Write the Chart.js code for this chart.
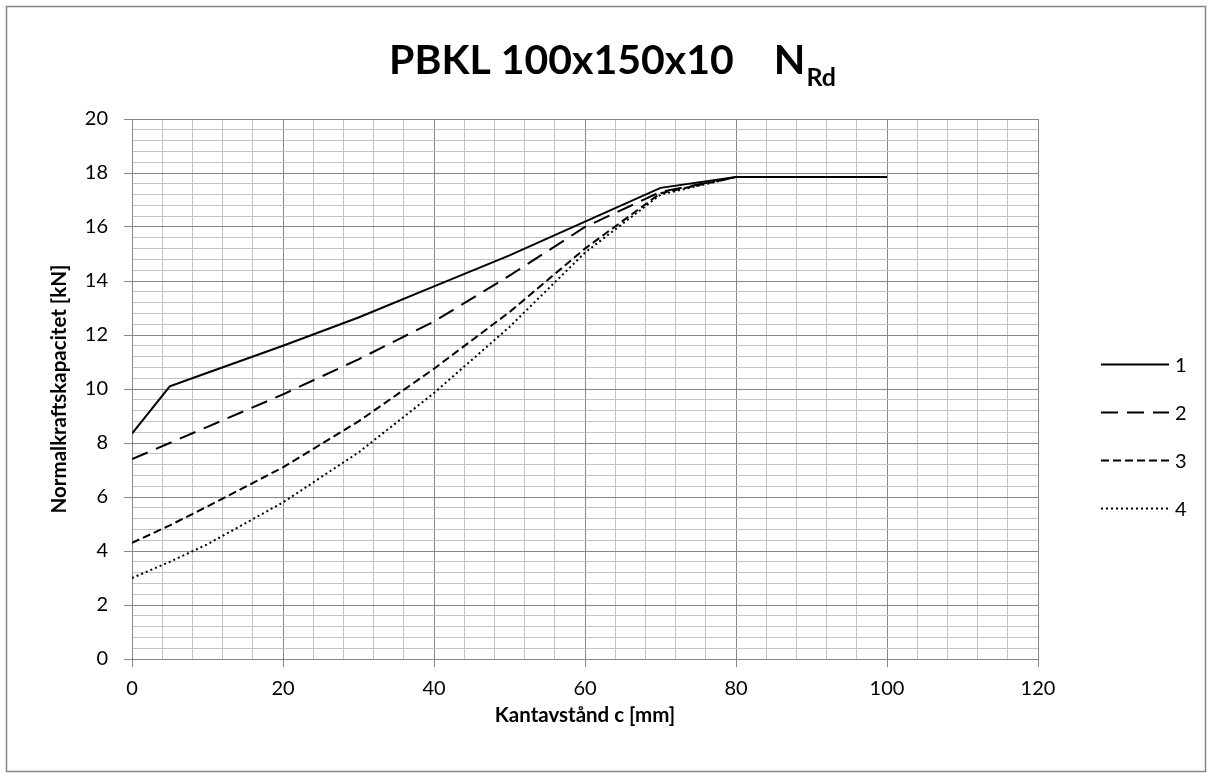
<!DOCTYPE html>
<html>
<head>
<meta charset="utf-8">
<script src="https://cdn.jsdelivr.net/npm/chart.js@4.4.1/dist/chart.umd.min.js"></script>
<style>
  body { margin: 0; background: #fff; }
  canvas { display: block; }
</style>
</head>
<body>
<canvas id="capacityChart" width="1212" height="778"></canvas>
<script>
// Kantavstånd c [mm]
const edgeDistances = [0, 5, 10, 20, 30, 40, 50, 60, 70, 80, 90, 100];

// Normalkraftskapacitet [kN]
const series1 = [8.35, 10.1, 10.6, 11.6, 12.65, 13.8, 14.95, 16.2, 17.45, 17.85, 17.85, 17.85];
const series2 = [7.4, 8.0, 8.6, 9.8, 11.1, 12.5, 14.2, 16.0, 17.3, 17.85, 17.85, 17.85];
const series3 = [4.3, 4.95, 5.65, 7.1, 8.8, 10.75, 12.85, 15.2, 17.25, 17.85, 17.85, 17.85];
const series4 = [3.0, 3.6, 4.25, 5.8, 7.65, 9.85, 12.3, 15.05, 17.2, 17.85, 17.85, 17.85];

const seriesLabels = ['1', '2', '3', '4'];

const FONT = 'Lato, "Open Sans", sans-serif';
const gridMajor = '#878787';
const gridMinor = '#c3c3c3';

function isMajor(value, step) {
    const r = value / step;
    return Math.abs(r - Math.round(r)) < 1e-6;
}

const toPoints = (ys) => edgeDistances.map((x, i) => ({ x: x, y: ys[i] }));

// outer frame around the whole chart
const framePlugin = {
    id: 'frame',
    beforeDraw(chart) {
        const ctx = chart.ctx;
        ctx.save();
        ctx.fillStyle = '#fff';
        ctx.fillRect(0, 0, chart.width, chart.height);
        ctx.strokeStyle = '#868686';
        ctx.lineWidth = 1.5;
        ctx.strokeRect(6.5, 6.5, chart.width - 13, chart.height - 13);
        ctx.restore();
    }
};

// title with subscript "Rd"
const titlePlugin = {
    id: 'subTitle',
    afterDraw(chart) {
        const ctx = chart.ctx;
        ctx.save();
        ctx.fillStyle = '#000';
        ctx.textBaseline = 'alphabetic';
        const mainText = 'PBKL 100x150x10';
        const mainFont = 'bold 41px ' + FONT;
        const subFont = 'bold 25px ' + FONT;
        ctx.font = mainFont;
        const w1 = ctx.measureText(mainText).width;
        const wN = ctx.measureText('N').width;
        ctx.font = subFont;
        const wS = ctx.measureText('Rd').width;
        const gap = 40;
        const total = w1 + gap + wN + wS;
        let x = 612 - total / 2;
        const baseline = 74;
        ctx.textAlign = 'left';
        ctx.font = mainFont;
        ctx.fillText(mainText, x, baseline);
        x += w1 + gap;
        ctx.fillText('N', x, baseline);
        x += wN + 1;
        ctx.font = subFont;
        ctx.fillText('Rd', x, baseline + 12);
        ctx.restore();
    }
};

// legend on the right: line sample followed by label
const legendPlugin = {
    id: 'lineLegend',
    afterDraw(chart) {
        const ctx = chart.ctx;
        const rowStart = 363.5;
        const rowStep = 48.3;
        ctx.save();
        chart.data.datasets.forEach((ds, i) => {
            const y = Math.round(rowStart + i * rowStep) + 0.5;
            ctx.strokeStyle = ds.borderColor;
            ctx.lineWidth = ds.borderWidth;
            ctx.setLineDash(ds.borderDash || []);
            ctx.beginPath();
            ctx.moveTo(1101, y);
            ctx.lineTo(1169, y);
            ctx.stroke();
            ctx.setLineDash([]);
            ctx.fillStyle = '#000';
            ctx.font = '20px ' + FONT;
            ctx.textAlign = 'left';
            ctx.textBaseline = 'middle';
            ctx.fillText(ds.label, 1175, y + 1);
        });
        ctx.restore();
    }
};

const dashes = [[], [17, 9], [8, 4], [2, 3]];
const seriesValues = [series1, series2, series3, series4];

const datasets = seriesValues.map((vals, i) => ({
    label: seriesLabels[i],
    data: toPoints(vals),
    borderColor: '#000',
    backgroundColor: '#000',
    borderWidth: 2,
    borderDash: dashes[i],
    pointRadius: 0,
    tension: 0,
    fill: false,
}));

const ctx = document.getElementById('capacityChart').getContext('2d');
new Chart(ctx, {
    type: 'line',
    data: { datasets: datasets },
    options: {
        responsive: false,
        animation: false,
        layout: { padding: { top: 119, right: 174, left: 0, bottom: 0 } },
        plugins: {
            legend: { display: false },
            title: { display: false },
            tooltip: { enabled: false },
        },
        scales: {
            x: {
                type: 'linear',
                min: 0,
                max: 120,
                afterFit(scale) { scale.height = 119; },
                ticks: {
                    stepSize: 4,
                    autoSkip: false,
                    maxRotation: 0,
                    padding: 10,
                    color: '#000',
                    font: { family: FONT, size: 20 },
                    callback: (v) => (isMajor(v, 20) ? v : ''),
                },
                grid: {
                    color: (c) => (isMajor(c.tick.value, 20) ? gridMajor : gridMinor),
                    tickColor: (c) => (isMajor(c.tick.value, 20) ? gridMajor : 'rgba(0,0,0,0)'),
                    tickLength: 8,
                    lineWidth: 1,
                },
                border: { color: gridMajor, width: 1 },
                title: {
                    display: true,
                    text: 'Kantavstånd c [mm]',
                    color: '#000',
                    font: { family: FONT, size: 20.5, weight: 'bold' },
                    padding: { top: 0, bottom: 50 },
                },
            },
            y: {
                min: 0,
                max: 20,
                afterFit(scale) { scale.width = 132; },
                ticks: {
                    stepSize: 0.4,
                    autoSkip: false,
                    padding: 16,
                    color: '#000',
                    font: { family: FONT, size: 20 },
                    callback: (v) => (isMajor(v, 2) ? Math.round(v) : ''),
                },
                grid: {
                    color: (c) => (isMajor(c.tick.value, 2) ? gridMajor : gridMinor),
                    tickColor: (c) => (isMajor(c.tick.value, 2) ? gridMajor : 'rgba(0,0,0,0)'),
                    tickLength: 8,
                    lineWidth: 1,
                },
                border: { color: gridMajor, width: 1 },
                title: {
                    display: true,
                    text: 'Normalkraftskapacitet [kN]',
                    color: '#000',
                    font: { family: FONT, size: 20.5, weight: 'bold' },
                    padding: { top: 47, bottom: 0 },
                },
            },
        },
    },
    plugins: [framePlugin, titlePlugin, legendPlugin],
});
</script>
</body>
</html>
